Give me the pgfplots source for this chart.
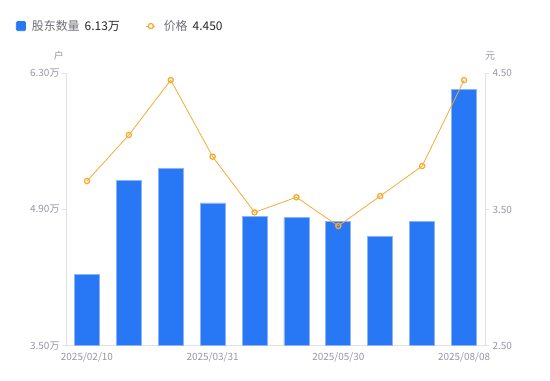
\documentclass[border=0pt]{standalone}
\usepackage{pgfplots}
\pgfplotsset{compat=1.18}
\usepackage{fontspec}
\setmainfont{Noto Sans CJK SC}
\definecolor{barblue}{RGB}{40,120,245}
\definecolor{baredge}{RGB}{140,180,250}
\definecolor{lineor}{RGB}{247,170,50}
\definecolor{axgray}{RGB}{224,224,230}
\definecolor{tkgray}{RGB}{150,150,165}
\definecolor{lgtext}{RGB}{110,110,120}
\begin{document}
\begin{tikzpicture}
\path[use as bounding box] (0,0) rectangle (550bp,381bp);
\begin{axis}[
  at={(66bp,35.3bp)}, anchor=south west,
  scale only axis, width=419bp, height=272.4bp,
  xmin=-0.5, xmax=9.5, ymin=3.5, ymax=6.3,
  axis x line*=bottom, axis y line*=left,
  axis line style={draw=axgray, line width=0.8bp},
  xtick={0,3,6,9},
  xticklabels={2025/02/10,2025/03/31,2025/05/30,2025/08/08},
  xtick style={draw=none},
  ytick={3.5,4.9,6.3},
  yticklabel={\pgfmathprintnumber[fixed,fixed zerofill,precision=2]{\tick}万},
  /pgf/number format/assume math mode=true,
  tick align=outside, major tick length=4bp,
  ytick style={draw=axgray, line width=0.8bp},
  tick label style={font=\fontsize{10}{12}\selectfont, text=tkgray},
  xticklabel style={yshift=1bp},
  yticklabel style={xshift=1bp},
  legend style={at={(-0.127,1.21)}, anchor=north west, draw=none, fill=none,
    legend columns=2, font=\fontsize{12}{14}\selectfont, text=lgtext,
    /tikz/every even column/.append style={column sep=23bp},
    /tikz/every odd column/.append style={column sep=0bp},
    nodes={inner xsep=3bp}},
  legend cell align=left,
  clip=false,
]
\addplot[ybar, bar width=25bp, fill=barblue, draw=baredge, line width=0.7bp,
  legend image code/.code={\fill[barblue, rounded corners=1.2bp] (0bp,-4.6bp) rectangle (9.2bp,4.6bp);}]
  coordinates {(0,4.230) (1,5.196) (2,5.323) (3,4.967) (4,4.833) (5,4.820) (6,4.775) (7,4.625) (8,4.779) (9,6.130)};
\addlegendentry{\hspace{3bp}股东数量\hspace{5bp}\textcolor{black!85}{6.13万}}
\addlegendimage{legend image code/.code={\draw[lineor, line width=0.9bp] (0bp,0bp) -- (9bp,0bp); \draw[lineor, fill=white, line width=1.3bp] (4.5bp,0bp) circle (2.6bp);}}
\addlegendentry{\hspace{5bp}价格\hspace{5bp}\textcolor{black!85}{4.450}}
\node[font=\fontsize{10}{12}\selectfont, text=tkgray] at (axis description cs:-0.017,1.063) {户};
\node[font=\fontsize{10}{12}\selectfont, text=tkgray] at (axis description cs:1.012,1.063) {元};
\end{axis}
\begin{axis}[
  at={(66bp,35.3bp)}, anchor=south west,
  scale only axis, width=419bp, height=272.4bp,
  xmin=-0.5, xmax=9.5, ymin=2.5, ymax=4.5,
  axis x line=none, axis y line*=right,
  axis line style={draw=axgray, line width=0.8bp},
  ytick={2.5,3.5,4.5},
  yticklabel={\pgfmathprintnumber[fixed,fixed zerofill,precision=2]{\tick}},
  /pgf/number format/assume math mode=true,
  tick align=outside, major tick length=4bp,
  ytick style={draw=axgray, line width=0.8bp},
  tick label style={font=\fontsize{10}{12}\selectfont, text=tkgray},
  clip=false,
]
\addplot[color=lineor, line width=0.8bp, mark=o, mark size=2.6bp,
  mark options={fill=white, line width=1.3bp}]
  coordinates {(0,3.709) (1,4.047) (2,4.450) (3,3.888) (4,3.479) (5,3.590) (6,3.379) (7,3.599) (8,3.819) (9,4.450)};
\end{axis}
\end{tikzpicture}
\end{document}
